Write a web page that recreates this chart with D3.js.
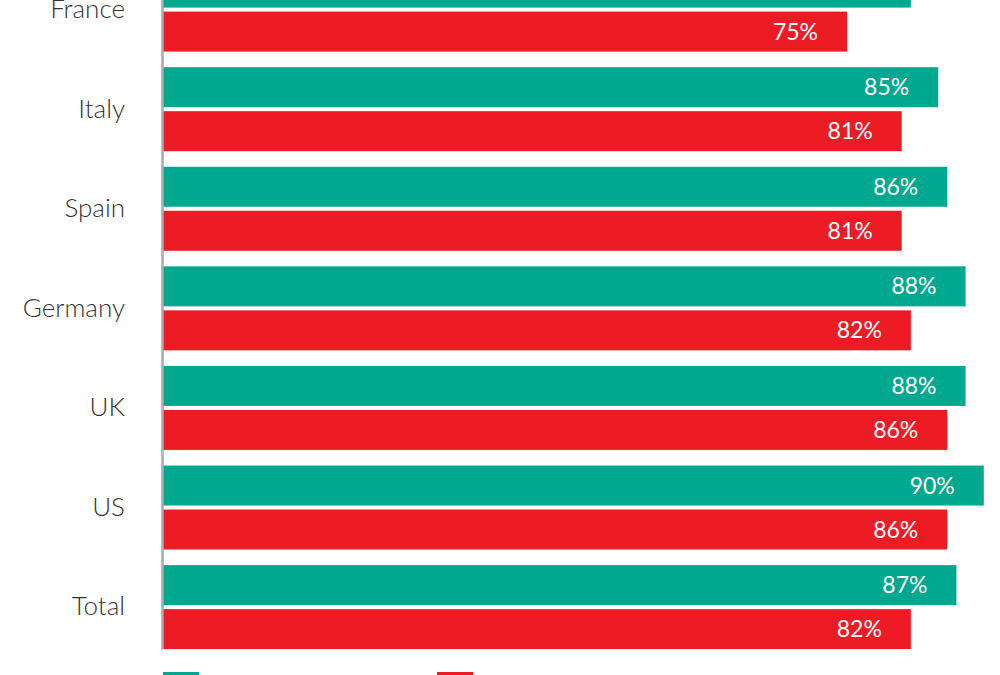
<!DOCTYPE html>
<html>
<head>
<meta charset="utf-8">
<script src="https://cdn.jsdelivr.net/npm/d3@7"></script>
<style>
  html, body { margin: 0; padding: 0; background: #fff; overflow: hidden; }
  svg { display: block; }
</style>
</head>
<body>
<svg id="chart"></svg>
<script>
const categories = ['France', 'Italy', 'Spain', 'Germany', 'UK', 'US', 'Total'];
const seriesKeys = ['green', 'red'];
const greenValues = [82, 85, 86, 88, 88, 90, 87];
const redValues = [75, 81, 81, 82, 86, 86, 82];
const colors = { green: '#00a88f', red: '#ed1c24' };

const width = 1000;
const height = 675;

const svg = d3.select('#chart')
  .attr('width', width)
  .attr('height', height);

const x = d3.scaleLinear().domain([0, 100]).range([163, 1075]);

// rows: France sits partly above the frame, as in the cropped source
const y = d3.scaleBand()
  .domain(categories)
  .range([-32.4, 649.1])
  .paddingInner(0.1566)
  .paddingOuter(0);

const ySeries = d3.scaleBand()
  .domain(seriesKeys)
  .range([0, y.bandwidth()])
  .paddingInner(0.0909);

const rows = categories.map((c, i) => ({
  category: c,
  values: [
    { key: 'green', value: greenValues[i] },
    { key: 'red', value: redValues[i] }
  ]
}));

const group = svg.selectAll('.row')
  .data(rows)
  .enter()
  .append('g')
  .attr('class', 'row')
  .attr('transform', d => `translate(0,${y(d.category)})`);

group.selectAll('rect')
  .data(d => d.values)
  .enter()
  .append('rect')
  .attr('x', x(0))
  .attr('y', d => ySeries(d.key))
  .attr('width', d => x(d.value) - x(0))
  .attr('height', ySeries.bandwidth())
  .attr('fill', d => colors[d.key]);

group.selectAll('text')
  .data(d => d.values)
  .enter()
  .append('text')
  .attr('x', d => x(d.value) - 29)
  .attr('y', d => ySeries(d.key) + ySeries.bandwidth() / 2)
  .attr('dy', '0.35em')
  .attr('text-anchor', 'end')
  .attr('fill', '#fff')
  .style('font-family', 'Lato, sans-serif')
  .style('font-size', '23px')
  .text(d => d.value + '%');

const yAxis = d3.axisLeft(y).tickSize(0).tickSizeOuter(0).tickPadding(37);
const axisG = svg.append('g')
  .attr('transform', 'translate(162,0)')
  .call(yAxis);
axisG.select('.domain')
  .attr('stroke', '#aaaaaa')
  .attr('stroke-width', 2.5);
axisG.selectAll('.tick text')
  .attr('fill', '#333')
  .style('font-family', 'Lato, sans-serif')
  .style('font-weight', 300)
  .style('font-size', '26px');

// legend swatches (their labels fall below the frame)
const legendX = d3.scalePoint().domain(seriesKeys).range([163, 437]);
svg.selectAll('.swatch')
  .data(seriesKeys)
  .enter()
  .append('rect')
  .attr('class', 'swatch')
  .attr('x', d => legendX(d))
  .attr('y', 672)
  .attr('width', 36)
  .attr('height', 12)
  .attr('fill', d => colors[d]);
</script>
</body>
</html>
